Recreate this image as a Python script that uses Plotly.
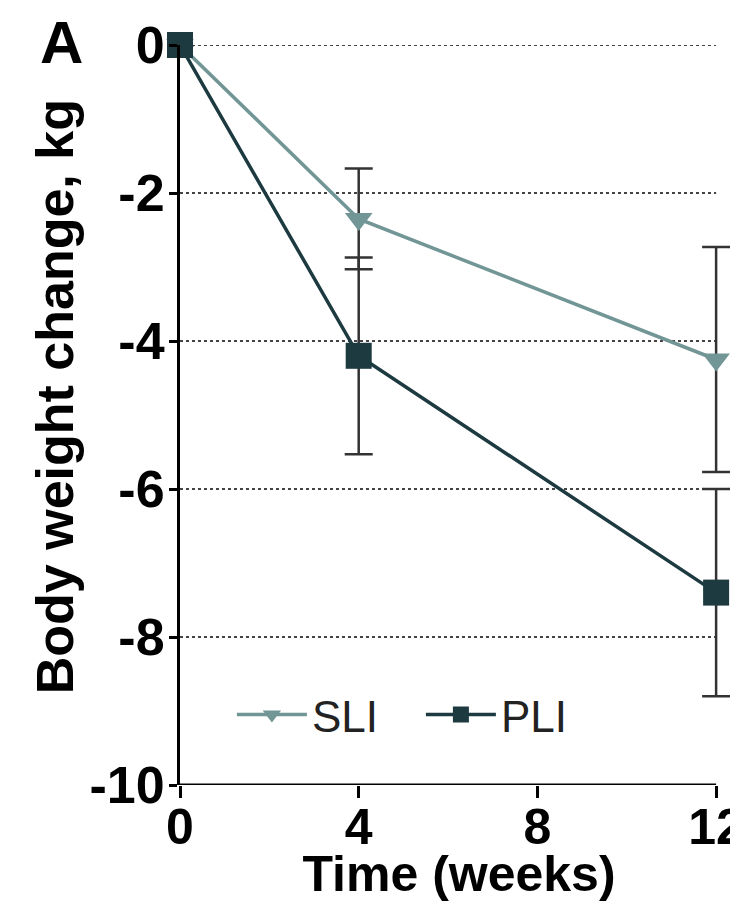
import plotly.graph_objects as go

weeks = [0, 4, 12]
sli_mean = [0.0, -2.35, -4.25]
sli_err = [0.0, 0.68, 1.52]
pli_mean = [0.0, -4.2, -7.4]
pli_err = [0.0, 1.33, 1.4]
x_ticks = [0, 4, 8, 12]
x_ticktext = ["0", "4", "8", "12"]
y_ticks = [0, -2, -4, -6, -8, -10]
y_ticktext = ["0", "-2", "-4", "-6", "-8", "-10"]
grid_levels = [0, -2, -4, -6, -8]
x_min, x_max = 0, 12
y_min = -10

sli_color = "#729595"
pli_color = "#1c3a40"
err_color = "#333333"

font_fam = "Liberation Sans, Arial, sans-serif"

fig = go.Figure()
fig.add_trace(go.Scatter(
    x=weeks, y=sli_mean, name="SLI", mode="lines+markers",
    line=dict(color=sli_color, width=3.5),
    marker=dict(symbol="triangle-down", size=24, color=sli_color),
    error_y=dict(type="data", array=sli_err, color=err_color, thickness=2.5, width=14),
    cliponaxis=False,
))
fig.add_trace(go.Scatter(
    x=weeks, y=pli_mean, name="PLI", mode="lines+markers",
    line=dict(color=pli_color, width=3.5),
    marker=dict(symbol="square", size=26, color=pli_color),
    error_y=dict(type="data", array=pli_err, color=err_color, thickness=2.5, width=14),
    cliponaxis=False,
))

shapes = []
for g in grid_levels:
    shapes.append(dict(type="line", xref="x", yref="y", x0=x_min, x1=x_max, y0=g, y1=g,
                       line=dict(color="#444444", width=2, dash="dot"), layer="below"))
shapes.append(dict(type="line", xref="x", yref="y", x0=x_min, x1=x_max, y0=y_min, y1=y_min,
                   line=dict(color="black", width=3), layer="above"))

fig.update_layout(
    width=730, height=894,
    margin=dict(l=172, r=0, t=37, b=117),
    plot_bgcolor="white", paper_bgcolor="white",
    font=dict(family=font_fam, color="black"),
    showlegend=True,
    shapes=shapes,
    legend=dict(orientation="h", x=0.093, y=0.0946, xanchor="left", yanchor="middle",
                font=dict(size=44, family=font_fam, color="#222"),
                bgcolor="rgba(0,0,0,0)", itemwidth=70, entrywidth=104, entrywidthmode="pixels"),
    xaxis=dict(range=[x_min, 12.49], tickvals=x_ticks, ticktext=x_ticktext, showline=False,
               ticks="outside", ticklen=12, tickwidth=3, tickcolor="black", showgrid=False,
               zeroline=False, automargin=False, ticklabeloverflow="allow", ticklabelstandoff=-14,
               tickfont=dict(size=50, family=font_fam, weight="bold"),
               title=dict(text="Time (weeks)", font=dict(size=50, family=font_fam, weight="bold"), standoff=6)),
    yaxis=dict(range=[y_min, 0], tickvals=y_ticks, ticktext=y_ticktext, showline=True, linecolor="black", linewidth=3,
               ticks="outside", ticklen=8, tickwidth=3, tickcolor="black", ticklabelstandoff=-6,
               showgrid=False, zeroline=False, automargin=False,
               tickfont=dict(size=52, family=font_fam, weight="bold")),
)
fig.add_annotation(text="Body weight change, kg", textangle=-90, xref="paper", yref="paper",
                   x=-0.224, y=0.524, xanchor="center", yanchor="middle", showarrow=False,
                   font=dict(size=52, family=font_fam, weight="bold", color="black"))
fig.add_annotation(text="A", xref="paper", yref="paper", x=-0.213, y=1.004,
                   xanchor="center", yanchor="middle", showarrow=False,
                   font=dict(size=60, family=font_fam, weight="bold", color="black"))

fig.write_html("out.html")
